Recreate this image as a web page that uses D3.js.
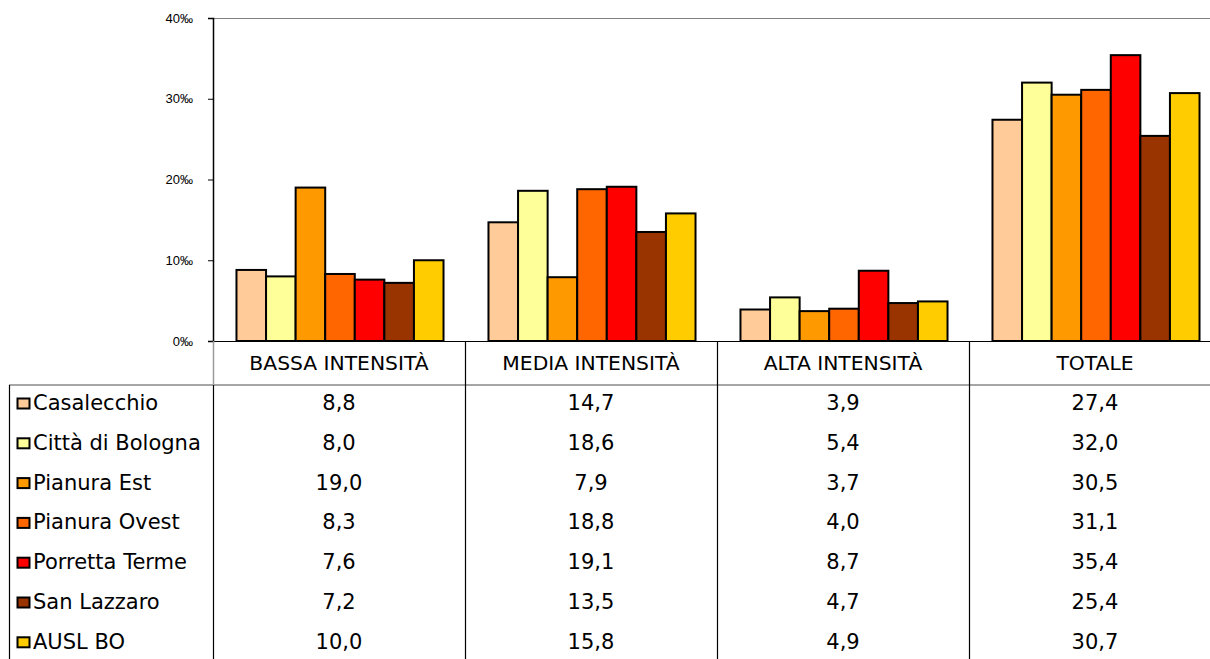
<!DOCTYPE html>
<html><head><meta charset="utf-8">
<script src="https://cdn.jsdelivr.net/npm/d3@7"></script>
<style>
body{margin:0;background:#fff;}
svg{display:block;font-family:"DejaVu Sans",sans-serif;}
</style></head>
<body><svg id="c" width="1210" height="659"></svg>
<script>
const categories = ["BASSA INTENSITÀ","MEDIA INTENSITÀ","ALTA INTENSITÀ","TOTALE"];
const seriesNames = ["Casalecchio","Città di Bologna","Pianura Est","Pianura Ovest","Porretta Terme","San Lazzaro","AUSL BO"];
const seriesColors = ["#FFCC99","#FFFF99","#FF9900","#FF6600","#FF0000","#993300","#FFCC00"];
const casalecchio = [8.8,14.7,3.9,27.4];
const cittaBologna = [8.0,18.6,5.4,32.0];
const pianuraEst = [19.0,7.9,3.7,30.5];
const pianuraOvest = [8.3,18.8,4.0,31.1];
const porretta = [7.6,19.1,8.7,35.4];
const sanLazzaro = [7.2,13.5,4.7,25.4];
const ausl = [10.0,15.8,4.9,30.7];
const yTicks = [0,10,20,30,40];

(function(){
const seriesValues = [casalecchio,cittaBologna,pianuraEst,pianuraOvest,porretta,sanLazzaro,ausl];

const svg = d3.select("#c");
const plotLeft = 213, colW = 252, plotTop = 18, zeroY = 341;
const x0 = d3.scaleBand().domain(categories).range([plotLeft, plotLeft + colW*categories.length]).paddingInner(0).paddingOuter(0);
const x1 = d3.scaleBand().domain(seriesNames).range([0, x0.bandwidth()]).paddingInner(0).paddingOuter(0.76);
const y = d3.scaleLinear().domain([0,40]).range([zeroY, plotTop]);

svg.append("line").attr("x1",plotLeft).attr("x2",1210).attr("y1",plotTop+0.5).attr("y2",plotTop+0.5).attr("stroke","#808080").attr("stroke-width",1.2);

seriesNames.forEach((s,si)=>{
  svg.append("g").selectAll("rect").data(categories.map((c,ci)=>({c,v:seriesValues[si][ci]})))
    .join("rect")
    .attr("x",d=>x0(d.c)+x1(s)+1)
    .attr("y",d=>y(d.v))
    .attr("width",x1.bandwidth())
    .attr("height",d=>zeroY-y(d.v))
    .attr("fill",seriesColors[si])
    .attr("stroke","#000").attr("stroke-width",2);
});

svg.append("line").attr("x1",plotLeft-5).attr("x2",1210).attr("y1",zeroY+0.5).attr("y2",zeroY+0.5).attr("stroke","#000").attr("stroke-width",1);

const ya = svg.append("g").attr("transform",`translate(${plotLeft},0)`)
  .call(d3.axisLeft(y).tickValues(yTicks).tickSize(5).tickPadding(15).tickFormat(d=>d+"‰"));
ya.select(".domain").attr("stroke","#000").attr("stroke-width",1.5);
ya.selectAll(".tick line").attr("stroke","#000");
ya.selectAll("text").attr("font-family","Liberation Sans, Arial, sans-serif").attr("font-size",13).attr("fill","#000");

const rowH = 39.8, tableTop = 385, tableBottom = 659;
svg.append("line").attr("x1",plotLeft+0.5).attr("x2",plotLeft+0.5).attr("y1",zeroY).attr("y2",tableTop).attr("stroke","#9a9a9a").attr("stroke-width",1.5);
svg.append("line").attr("x1",9).attr("x2",1210).attr("y1",tableTop).attr("y2",tableTop).attr("stroke","#a6a6a6").attr("stroke-width",2);
svg.append("line").attr("x1",9.5).attr("x2",9.5).attr("y1",tableTop).attr("y2",tableBottom).attr("stroke","#000").attr("stroke-width",1.2);
categories.forEach((c,i)=>{
  const xx = x0(c)+0.5;
  svg.append("line").attr("x1",xx).attr("x2",xx).attr("y1",i===0?tableTop:zeroY).attr("y2",tableBottom).attr("stroke","#000").attr("stroke-width",1.2);
});
svg.append("g").selectAll("text").data(categories).join("text")
  .attr("x",d=>x0(d)+x0.bandwidth()/2).attr("y",370)
  .attr("text-anchor","middle").attr("font-size",20.3).attr("fill","#000").text(d=>d);

seriesNames.forEach((s,si)=>{
  const by = tableTop + rowH*si + 25;
  svg.append("rect").attr("x",17.5).attr("y",by-11.5).attr("width",12).attr("height",10)
    .attr("fill",seriesColors[si]).attr("stroke","#000").attr("stroke-width",2);
  svg.append("text").attr("x",33).attr("y",by).attr("font-size",21).attr("fill","#000").text(s);
  categories.forEach((c)=>{
    svg.append("text").attr("x",x0(c)+x0.bandwidth()/2).attr("y",by)
      .attr("text-anchor","middle").attr("font-size",21).attr("fill","#000")
      .text(seriesValues[si][categories.indexOf(c)].toFixed(1).replace(".",","));
  });
});
})();
</script></body></html>
